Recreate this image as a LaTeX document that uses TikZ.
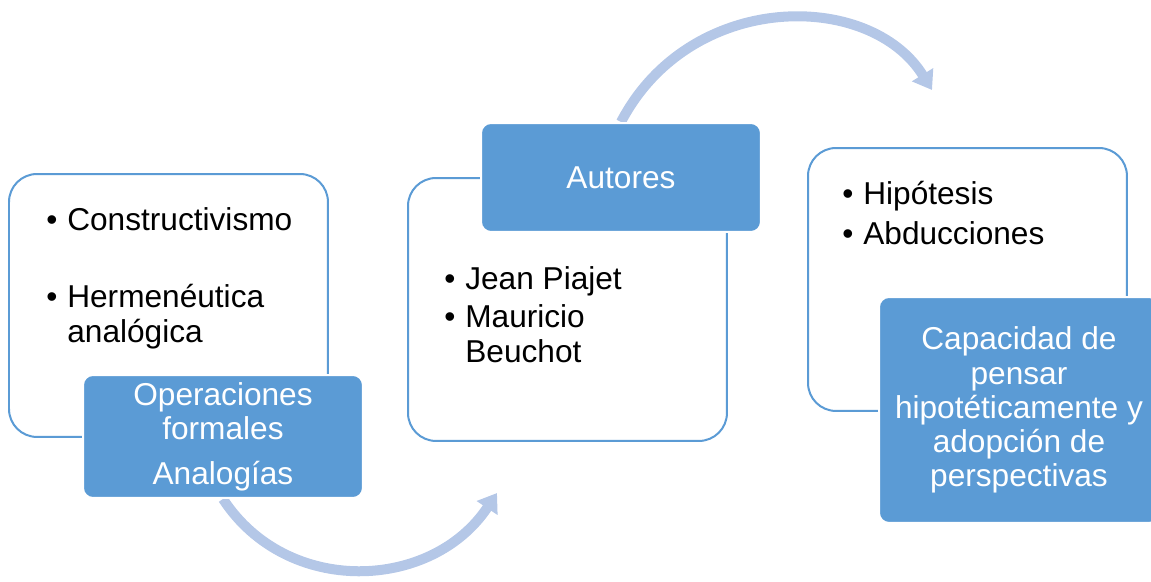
\documentclass[tikz,border=0pt]{standalone}
\usepackage{fontspec}
\setmainfont{Liberation Sans}
\usepackage{tikz}
\usetikzlibrary{arrows.meta, backgrounds}

\definecolor{boxblue}{HTML}{5B9BD5}
\definecolor{arcblue}{HTML}{B4C7E7}
\newcommand{\bul}{\makebox[0.42cm][l]{\textbullet}}
\newcommand{\nobul}{\hspace*{0.42cm}}

\begin{document}
\begin{tikzpicture}[
        x=0.02cm, y=-0.02cm,
        every node/.style = {
            font=\fontsize{18}{19.4}\selectfont,
            inner sep=0pt
        },
        outerbox/.style = {
            draw=boxblue, line width=0.04cm, fill=white,
            rounded corners=0.56cm, anchor=north west,
            minimum width=6.38cm, minimum height=5.26cm
        },
        titlebox/.style = {
            draw=white, line width=0.04cm, fill=boxblue, text=white,
            rounded corners=0.2cm, anchor=north west, align=center,
            minimum width=5.6cm
        },
        itemlist/.style = {align=left, anchor=base west},
        curvearrow/.style = {
            draw=arcblue, line width=0.2cm,
            -{Triangle[length=0.36cm, width=0.48cm]}
        }]
        \useasboundingbox (0,0) rectangle (1151,581);

        \node[outerbox] (marco) at (8,173) {};
        \node[outerbox] (autlist) at (407,177) {};
        \node[outerbox] (hipo) at (807,147) {};

        % base of a list node = baseline of its last line
        \node[itemlist] (marcotxt) at (46,342) {\bul Constructivismo\\[0.86cm] \bul Hermenéutica\\ \nobul analógica};
        \node[itemlist] (auttxt) at (444,362) {\bul Jean Piajet\\[0.09cm] \bul Mauricio\\ \nobul Beuchot};
        \node[itemlist] (hipotxt) at (842,244) {\bul Hipótesis\\[0.1cm] \bul Abducciones};

        \node[titlebox, minimum height=2.46cm] (oper) at (82,374) {Operaciones\\formales\\[0.22cm]Analogías};
        \node[titlebox, minimum height=2.18cm] (autores) at (480,122) {Autores};
        \node[titlebox, minimum height=4.52cm] (capac) at (878,296) {Capacidad de\\pensar\\hipotéticamente y\\adopción de\\perspectivas};

        \coordinate (endlow) at (497,493);
        \coordinate (endhigh) at (932,90);
        \begin{scope}[on background layer]
            \draw[curvearrow] (oper.south) .. controls (287,597) and (432,591) .. (endlow);
            \draw[curvearrow] (autores.north) .. controls (690,-10) and (870,-10) .. (endhigh);
        \end{scope}
    \end{tikzpicture}
\end{document}
